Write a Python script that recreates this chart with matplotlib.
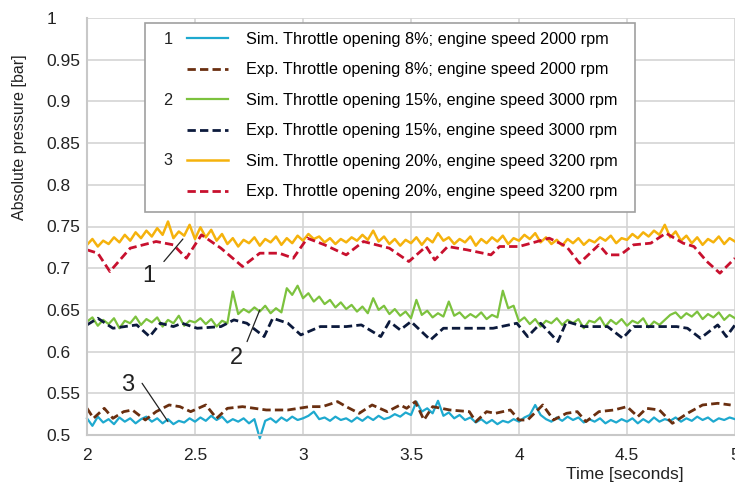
import numpy as np
import matplotlib
matplotlib.use('Agg')
from matplotlib import pyplot as plt
from matplotlib.patches import Rectangle

plt.rcParams['font.family'] = ['Liberation Sans', 'DejaVu Sans']

# simulated traces, sampled every 0.025 s from 2 s to 5 s, in mbar
sim_t = np.arange(121) * 0.025 + 2.0
sim1_mbar = [520, 511, 522, 515, 519, 513, 521, 516, 520, 514,
             519, 522, 516, 520, 514, 519, 513, 517, 515, 520,
             516, 521, 517, 523, 518, 522, 515, 519, 516, 520,
             514, 519, 496, 517, 520, 515, 521, 517, 522, 518,
             520, 523, 528, 519, 521, 517, 522, 518, 520, 516,
             521, 517, 522, 518, 523, 519, 521, 525, 522, 527,
             524, 540, 528, 532, 526, 541, 523, 527, 520, 524,
             518, 521, 515, 519, 514, 518, 513, 517, 515, 519,
             516, 521, 524, 536, 524, 519, 516, 521, 517, 522,
             518, 521, 515, 519, 516, 520, 514, 518, 515, 519,
             516, 520, 514, 519, 515, 521, 516, 519, 517, 521,
             516, 520, 517, 522, 518, 521, 516, 520, 518, 521,
             519]
sim2_mbar = [636, 641, 631, 638, 633, 640, 628, 637, 634, 642,
             632, 639, 635, 641, 630, 638, 634, 643, 631, 637,
             635, 640, 633, 639, 630, 637, 634, 672, 645, 651,
             647, 653, 648, 655, 646, 652, 647, 676, 668, 679,
             664, 670, 660, 666, 657, 662, 653, 659, 651, 656,
             648, 654, 646, 664, 650, 655, 645, 651, 643, 648,
             640, 662, 644, 649, 641, 646, 642, 660, 643, 647,
             640, 645, 641, 647, 639, 644, 641, 673, 652, 655,
             636, 641, 633, 639, 630, 637, 634, 640, 632, 638,
             634, 639, 628, 637, 635, 641, 630, 638, 633, 639,
             631, 637, 634, 640, 629, 636, 632, 638, 644, 647,
             640, 646, 642, 648, 639, 645, 641, 647, 638, 644,
             640]
sim3_mbar = [728, 735, 726, 733, 729, 737, 731, 740, 733, 743,
             736, 745, 738, 748, 740, 756, 736, 744, 739, 752,
             735, 749, 737, 746, 733, 741, 729, 736, 726, 734,
             730, 737, 727, 735, 731, 738, 728, 736, 730, 739,
             733, 741, 735, 738, 731, 736, 729, 735, 731, 737,
             733, 740, 734, 745, 732, 738, 729, 735, 727, 734,
             730, 737, 728, 736, 731, 742, 733, 737, 729, 735,
             731, 738, 727, 735, 730, 737, 732, 739, 729, 736,
             733, 740, 735, 742, 731, 737, 729, 734, 727, 735,
             730, 736, 728, 734, 731, 737, 733, 739, 730, 736,
             734, 741, 736, 743, 738, 745, 740, 752, 737, 744,
             733, 739, 730, 737, 728, 735, 731, 738, 729, 736,
             732]

# experimental traces
exp1_t = [2.0, 2.03, 2.08, 2.12, 2.17, 2.21, 2.27, 2.32, 2.38, 2.43,
          2.48, 2.55, 2.60, 2.65, 2.72, 2.83, 2.93, 3.03, 3.09, 3.16,
          3.20, 3.26, 3.32, 3.39, 3.45, 3.48, 3.52, 3.56, 3.60, 3.68,
          3.77, 3.80, 3.85, 3.89, 3.96, 4.00, 4.04, 4.11, 4.16, 4.22,
          4.27, 4.31, 4.37, 4.44, 4.50, 4.55, 4.59, 4.65, 4.71, 4.78,
          4.85, 4.92, 4.98]
exp1_p = [0.532, 0.520, 0.532, 0.520, 0.528, 0.530, 0.518, 0.528, 0.536, 0.534,
          0.528, 0.536, 0.520, 0.532, 0.534, 0.530, 0.530, 0.534, 0.534, 0.540,
          0.534, 0.526, 0.536, 0.528, 0.536, 0.532, 0.540, 0.518, 0.534, 0.530,
          0.528, 0.516, 0.528, 0.526, 0.530, 0.518, 0.518, 0.536, 0.518, 0.526,
          0.528, 0.516, 0.528, 0.530, 0.534, 0.522, 0.532, 0.530, 0.514, 0.526,
          0.536, 0.538, 0.536]
exp2_t = [2.0, 2.05, 2.12, 2.23, 2.29, 2.34, 2.40, 2.44, 2.51, 2.62,
          2.68, 2.74, 2.82, 2.86, 2.93, 2.99, 3.08, 3.20, 3.27, 3.36,
          3.40, 3.45, 3.50, 3.59, 3.65, 3.76, 3.88, 3.99, 4.04, 4.10,
          4.18, 4.22, 4.30, 4.41, 4.48, 4.53, 4.63, 4.73, 4.78, 4.84,
          4.92, 4.96, 5.0]
exp2_p = [0.632, 0.640, 0.628, 0.632, 0.618, 0.634, 0.630, 0.634, 0.628, 0.630,
          0.638, 0.634, 0.618, 0.640, 0.634, 0.620, 0.630, 0.630, 0.632, 0.618,
          0.636, 0.626, 0.636, 0.614, 0.628, 0.628, 0.628, 0.634, 0.618, 0.634,
          0.612, 0.636, 0.630, 0.630, 0.616, 0.630, 0.630, 0.630, 0.628, 0.616,
          0.632, 0.618, 0.632]
exp3_t = [2.0, 2.05, 2.106, 2.2, 2.32, 2.4, 2.46, 2.53, 2.62, 2.72,
          2.8, 2.89, 2.955, 3.02, 3.1, 3.2, 3.28, 3.4, 3.49, 3.57,
          3.61, 3.67, 3.76, 3.87, 3.91, 4.0, 4.14, 4.22, 4.28, 4.37,
          4.41, 4.47, 4.53, 4.61, 4.68, 4.76, 4.81, 4.87, 4.93, 5.0]
exp3_p = [0.722, 0.718, 0.696, 0.724, 0.732, 0.728, 0.712, 0.740, 0.724, 0.702,
          0.718, 0.718, 0.712, 0.736, 0.728, 0.716, 0.732, 0.724, 0.708, 0.726,
          0.710, 0.726, 0.722, 0.716, 0.726, 0.726, 0.736, 0.726, 0.706, 0.728,
          0.716, 0.716, 0.728, 0.730, 0.742, 0.730, 0.726, 0.708, 0.694, 0.712]

labels = ["Sim. Throttle opening 8%; engine speed 2000 rpm",
          "Exp. Throttle opening 8%; engine speed 2000 rpm",
          "Sim. Throttle opening 15%, engine speed 3000 rpm",
          "Exp. Throttle opening 15%, engine speed 3000 rpm",
          "Sim. Throttle opening 20%, engine speed 3200 rpm",
          "Exp. Throttle opening 20%, engine speed 3200 rpm"]
xticks = [2, 2.5, 3, 3.5, 4, 4.5, 5]
xtick_labels = ['2', '2.5', '3', '3.5', '4', '4.5', '5']
yticks = [0.5, 0.55, 0.6, 0.65, 0.7, 0.75, 0.8, 0.85, 0.9, 0.95, 1.0]
ytick_labels = ['0.5', '0.55', '0.6', '0.65', '0.7', '0.75', '0.8', '0.85', '0.9', '0.95', '1']

fig = plt.figure(figsize=(7.35, 4.82), dpi=100)
ax = fig.add_axes([87/735, 1 - 435/482, 1 - 87/735, (435 - 18)/482])

grey = '#c8c8c8'
ax.grid(True, color='#d4d4d4', lw=1.2)
ax.set_axisbelow(True)
for s in ['top', 'right']:
    ax.spines[s].set_visible(False)
for s in ['left', 'bottom']:
    ax.spines[s].set_color(grey)
    ax.spines[s].set_linewidth(1.5)

dash = (3, 1.5)
l1, = ax.plot(sim_t, np.array(sim1_mbar) / 1000, color='#1ea9cf', lw=1.6, clip_on=False)
l2, = ax.plot(exp1_t, exp1_p, color='#6a2f10', lw=2, dashes=dash)
l3, = ax.plot(sim_t, np.array(sim2_mbar) / 1000, color='#7cc23e', lw=1.6)
l4, = ax.plot(exp2_t, exp2_p, color='#0c1a3c', lw=2, dashes=dash)
l5, = ax.plot(sim_t, np.array(sim3_mbar) / 1000, color='#f5b20c', lw=1.8)
l6, = ax.plot(exp3_t, exp3_p, color='#c8102e', lw=2, dashes=dash)

ax.set_xlim(2, 5)
ax.set_ylim(0.5, 1.0)
ax.set_xticks(xticks)
ax.set_xticklabels(xtick_labels)
ax.set_yticks(yticks)
ax.set_yticklabels(ytick_labels)
ax.tick_params(length=0, labelsize=12.5, colors='#222222')
ax.tick_params(axis='x', pad=9)
ax.tick_params(axis='y', pad=29)
for t in ax.get_yticklabels():
    t.set_horizontalalignment('left')

# curve markers: number + leader line
marks = [('1', (2.287, 0.691), (2.356, 0.708), (2.444, 0.735)),
         ('2', (2.69, 0.592), (2.741, 0.612), (2.80, 0.650)),
         ('3', (2.19, 0.560), (2.255, 0.562), (2.375, 0.516))]
for n, txt_xy, start, end in marks:
    ax.text(txt_xy[0], txt_xy[1], n, fontsize=17, ha='center', va='center',
            color='#222222')
    ax.annotate('', xy=end, xytext=start,
                arrowprops=dict(arrowstyle='-', color='#222222', lw=0.9,
                                shrinkA=0, shrinkB=0))

# legend in a hand drawn box
fig.patches.append(Rectangle((145/735, 1 - 212/482), 490/735, 189/482,
                             transform=fig.transFigure, facecolor='white',
                             edgecolor='#a0a0a0', lw=1.2, zorder=3))
leg = fig.legend([l1, l2, l3, l4, l5, l6], labels, loc='upper left',
                 bbox_to_anchor=(187/735, 1 - 32/482), frameon=False,
                 fontsize=11.7, borderpad=0, borderaxespad=0,
                 handlelength=2.5, handletextpad=1.15, labelspacing=0.95)
leg.set_zorder(4)
for i, n in enumerate(['1', '2', '3']):
    fig.text(168/735, 1 - (40 + 60.5*i)/482, n, fontsize=11.7, ha='center',
             va='center', color='#222222', zorder=5)

fig.text(20/735, 1 - 137/482, 'Absolute pressure [bar]', rotation=90,
         fontsize=11.5, ha='center', va='center', color='#222222')
fig.text(625/735, 1 - 475/482, 'Time [seconds]', fontsize=12.5,
         ha='center', va='center', color='#222222')

fig.savefig('out.png', dpi=100)
